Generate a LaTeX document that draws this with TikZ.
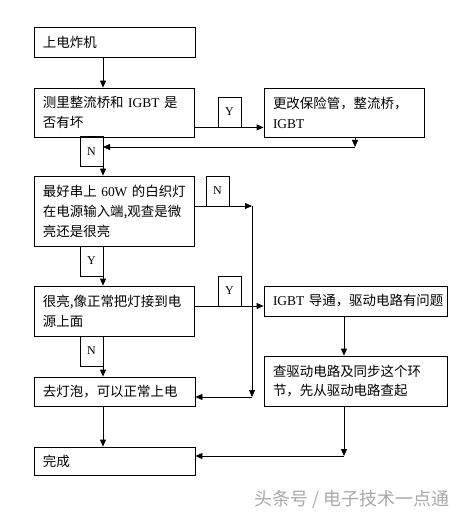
\documentclass[tikz,border=0pt]{standalone}
\usepackage{fontspec}
\usepackage{xcolor}
\setmainfont{Noto Sans CJK SC}
\newfontfamily\enfont{Liberation Serif}
\usetikzlibrary{arrows.meta}
\definecolor{flowline}{HTML}{000000}
\definecolor{markgray}{HTML}{A8A8A8}
\tikzset{
  stepbox/.style={draw=flowline, line width=0.8bp, minimum height=#1,
                  inner xsep=9bp, inner ysep=0pt, align=left,
                  font=\fontsize{13.5}{20}\selectfont},
  stepbox/.default=30bp,
  ynbox/.style={draw=flowline, line width=0.8bp, minimum width=23bp,
                minimum height=30bp, inner sep=0pt,
                font=\enfont\fontsize{12}{12}\selectfont},
  arr/.style={draw=flowline, line width=0.8bp,
              -{Triangle[length=7bp,width=6bp]}}
}
\begin{document}
\begin{tikzpicture}[x=1bp,y=-1bp]
\useasboundingbox (0,0) rectangle (473,523);
\coordinate (m) at (103,0);
\coordinate (k) at (344,0);

\node[stepbox=30bp, text width=143bp] (start) at (114.5,42) {上电炸机};
\node[stepbox=49bp, text width=142bp] (check) at (114,112.5)
  {测里整流桥和~{\enfont IGBT}~是\\否有坏};
\node[stepbox=49bp, text width=142bp] (fix) at (344,112.5)
  {更改保险管，整流桥，\\{\enfont IGBT}};
\node[stepbox=70bp, text width=142bp] (lamp) at (114,211)
  {最好串上~{\enfont 60W}~的白织灯\\在电源输入端,观查是微\\亮还是很亮};
\node[stepbox=50bp, text width=142bp] (bright) at (114,311)
  {很亮,像正常把灯接到电\\源上面};
\node[stepbox=30bp, text width=165bp] (igbt) at (355.5,301)
  {{\enfont IGBT}~导通，驱动电路有问题};
\node[stepbox=50bp, text width=165bp] (drive) at (355.5,381)
  {查驱动电路及同步这个环\\节，先从驱动电路查起};
\node[stepbox=29bp, text width=143bp] (power) at (114.5,391.5)
  {去灯泡，可以正常上电};
\node[stepbox=28bp, text width=143bp] (done) at (114.5,461) {完成};

\node[ynbox] (y1) at (229.5,112) {Y};
\node[ynbox] (n1) at (91.5,151.5) {N};
\node[ynbox] (n2) at (217.5,191) {N};
\node[ynbox] (y2) at (91.5,261) {Y};
\node[ynbox] (y3) at (229.5,291) {Y};
\node[ynbox] (n3) at (91.5,351) {N};

\coordinate (j1) at (355,147);
\coordinate (j2) at (252,206);
\coordinate (j3) at (252,397);
\coordinate (j4) at (230,306);
\coordinate (j5) at (344,456);

\draw[arr] (start.south -| m) -- (check.north -| m);
\draw[arr] ([yshift=10bp]check.south east) -- ([yshift=10bp]fix.south west);
\draw[arr] (fix.south -| j1) -- (j1);
\draw[arr] (j1) -- (j1 -| m);
\draw[arr] (check.south -| m) -- (lamp.north -| m);
\draw[arr] (lamp.east |- j2) -- (j2);
\draw[arr] (j2) -- (j3);
\draw[arr] (j3) -- (power.east |- j3);
\draw[arr] (lamp.south -| m) -- (bright.north -| m);
\draw[arr] (bright.east |- j4) -- (igbt.west |- j4);
\draw[arr] (igbt.south -| k) -- (drive.north -| k);
\draw[arr] (drive.south -| k) -- (j5);
\draw[arr] (j5) -- (done.east |- j5);
\draw[arr] (bright.south -| m) -- (power.north -| m);
\draw[arr] (power.south -| m) -- (done.north -| m);

\node[text=markgray, font=\fontsize{18}{18}\selectfont, inner sep=0pt]
  (mark) at (352,500) {头条号 / 电子技术一点通};
\end{tikzpicture}
\end{document}
